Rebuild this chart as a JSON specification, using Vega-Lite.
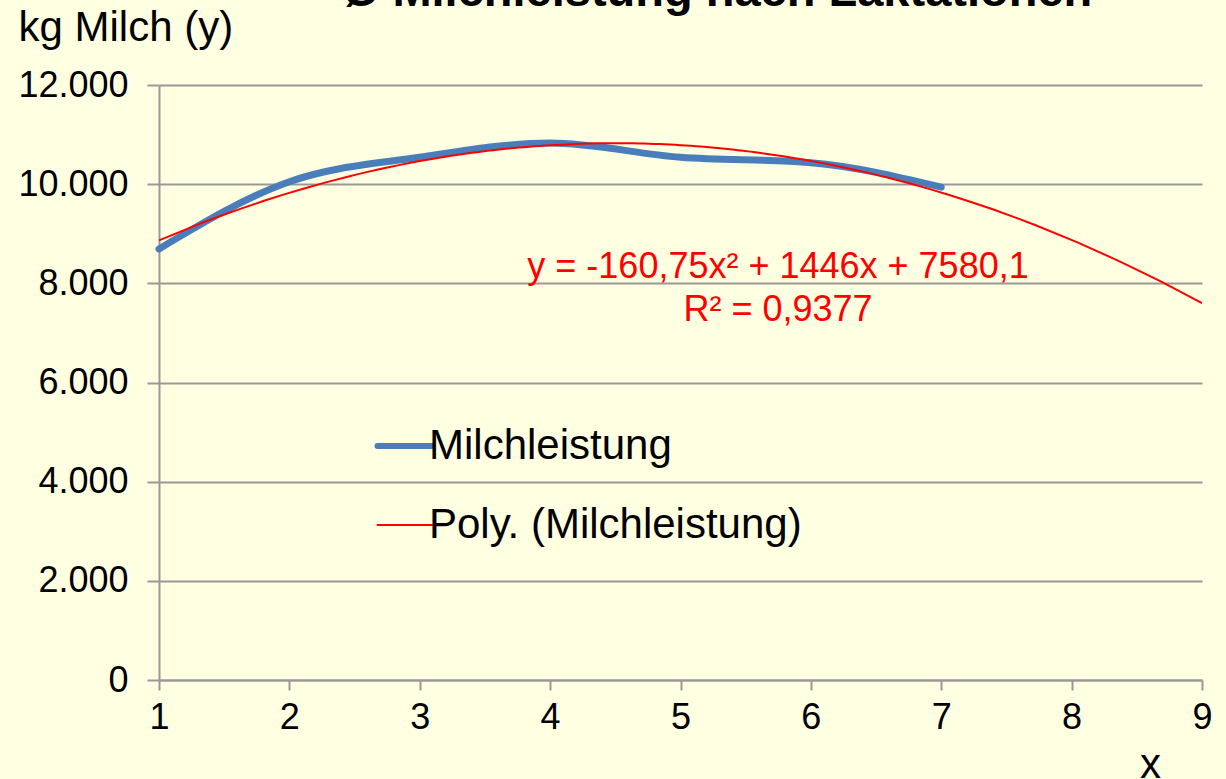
{
  "$schema": "https://vega.github.io/schema/vega-lite/v6.json",
  "width": 1043,
  "height": 595,
  "autosize": "none",
  "padding": {"left": 159, "top": 85, "right": 24, "bottom": 99},
  "background": "#ffffe1",
  "title": {
    "text": "Ø Milchleistung nach Laktationen",
    "font": "Liberation Sans",
    "fontSize": 47,
    "fontWeight": "bold",
    "color": "#000000",
    "anchor": "middle",
    "frame": "group",
    "baseline": "alphabetic",
    "dx": 37,
    "dy": 47,
    "offset": 0
  },
  "data": {
    "values": [
      {"x": 1, "y": 8694},
      {"x": 2, "y": 10050},
      {"x": 3, "y": 10542},
      {"x": 4, "y": 10830},
      {"x": 5, "y": 10542},
      {"x": 6, "y": 10433},
      {"x": 7, "y": 9940}
    ]
  },
  "layer": [
    {
      "mark": {"type": "line", "interpolate": "monotone", "strokeWidth": 7, "strokeCap": "round"},
      "encoding": {
        "x": {
          "field": "x", "type": "quantitative",
          "scale": {"domain": [1, 9], "nice": false, "zero": false},
          "axis": {
            "values": [1, 2, 3, 4, 5, 6, 7, 8, 9],
            "format": "d",
            "labelFlush": false,
            "grid": false,
            "title": "x",
            "titleX": 991,
            "titleY": 97,
            "titleAlign": "center",
            "titleBaseline": "alphabetic",
            "labelPadding": 10,
            "tickSize": 10
          }
        },
        "y": {
          "field": "y", "type": "quantitative",
          "scale": {"domain": [0, 12000], "nice": false},
          "axis": {
            "values": [0, 2000, 4000, 6000, 8000, 10000, 12000],
            "grid": true,
            "labelExpr": "replace(format(datum.value, ','), ',', '.')",
            "title": "kg Milch (y)",
            "titleAngle": 0,
            "titleAlign": "left",
            "titleBaseline": "alphabetic",
            "titleX": -141,
            "titleY": -45,
            "tickSize": 12,
            "labelPadding": 19
          }
        },
        "color": {
          "datum": "Milchleistung",
          "type": "nominal",
          "scale": {"domain": ["Milchleistung", "Poly. (Milchleistung)"], "range": ["#4a7ebb", "#ff0000"]},
          "legend": {
            "orient": "none",
            "legendX": 225,
            "legendY": 340,
            "title": null,
            "symbolType": "stroke",
            "symbolSize": 3025,
            "symbolStrokeWidth": 6,
            "rowPadding": 37,
            "labelOffset": 3,
            "labelFontSize": 42,
            "labelFont": "Liberation Sans",
            "labelColor": "#000000",
            "labelLimit": 600,
            "encode": {
              "symbols": {
                "update": {
                  "strokeWidth": {"signal": "datum.value === 'Milchleistung' ? 6 : 2"},
                  "strokeCap": {"value": "round"}
                }
              }
            }
          }
        }
      }
    },
    {
      "transform": [
        {"regression": "y", "on": "x", "method": "poly", "order": 2, "extent": [1, 9]}
      ],
      "mark": {"type": "line", "strokeWidth": 2},
      "encoding": {
        "x": {"field": "x", "type": "quantitative"},
        "y": {"field": "y", "type": "quantitative"},
        "color": {"datum": "Poly. (Milchleistung)", "type": "nominal"}
      }
    },
    {
      "data": {
        "values": [
          {"x": 5.748, "y": 8107, "label": "y = -160,75x² + 1446x + 7580,1"},
          {"x": 5.748, "y": 7240, "label": "R² = 0,9377"}
        ]
      },
      "mark": {"type": "text", "color": "#ff0000", "fontSize": 36, "font": "Liberation Sans", "align": "center", "baseline": "alphabetic"},
      "encoding": {
        "x": {"field": "x", "type": "quantitative"},
        "y": {"field": "y", "type": "quantitative"},
        "text": {"field": "label"}
      }
    }
  ],
  "config": {
    "view": {"stroke": null},
    "axis": {
      "labelFont": "Liberation Sans",
      "labelFontSize": 36,
      "labelColor": "#000000",
      "titleFont": "Liberation Sans",
      "titleFontSize": 42,
      "titleFontWeight": "normal",
      "titleColor": "#000000",
      "domainColor": "#999999",
      "domainWidth": 2,
      "tickColor": "#999999",
      "tickWidth": 2,
      "gridColor": "#999999",
      "gridWidth": 2
    }
  }
}
